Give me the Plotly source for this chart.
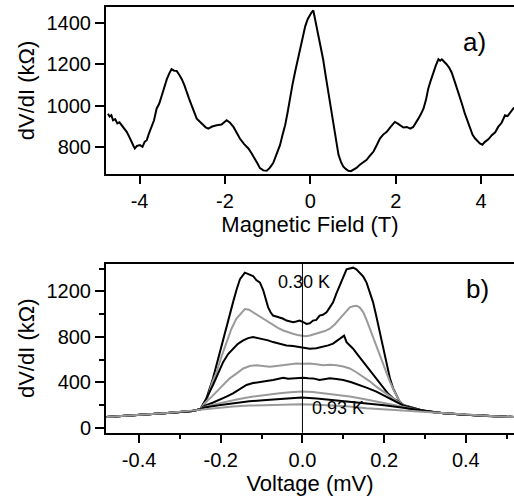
import plotly.graph_objects as go

# ---- panel a: differential resistance vs magnetic field ----
field_T = [-4.74, -4.70, -4.66, -4.62, -4.57, -4.52, -4.47, -4.42, -4.36, -4.30, -4.24, -4.18, -4.14, -4.11, -4.06,
           -3.99, -3.93, -3.88, -3.83, -3.78, -3.72, -3.66, -3.60, -3.54, -3.48, -3.42, -3.36, -3.30, -3.25, -3.19,
           -3.13, -3.07, -3.01, -2.95, -2.90, -2.84, -2.78, -2.72, -2.66, -2.58, -2.51, -2.45, -2.39, -2.30, -2.19,
           -2.08, -1.96, -1.88, -1.80, -1.72, -1.65, -1.55, -1.45, -1.38, -1.30, -1.24, -1.18, -1.10, -1.02, -0.95,
           -0.87, -0.79, -0.71, -0.65, -0.59, -0.53, -0.48, -0.42, -0.36, -0.30, -0.24, -0.18, -0.12, -0.06, -0.01,
           0.03, 0.07, 0.13, 0.19, 0.25, 0.30, 0.36, 0.42, 0.48, 0.54, 0.60, 0.66, 0.72, 0.77, 0.83, 0.89, 0.95,
           1.01, 1.08, 1.16, 1.24, 1.32, 1.40, 1.48, 1.56, 1.63, 1.71, 1.79, 1.88, 1.98, 2.04, 2.10, 2.18, 2.26,
           2.34, 2.41, 2.47, 2.53, 2.59, 2.65, 2.71, 2.76, 2.82, 2.88, 2.94, 3.00, 3.04, 3.08, 3.13, 3.19, 3.25,
           3.31, 3.39, 3.47, 3.55, 3.62, 3.68, 3.74, 3.80, 3.86, 3.92, 3.97, 4.03, 4.09, 4.17, 4.25, 4.33, 4.40,
           4.48, 4.56, 4.62, 4.68, 4.72, 4.77]
dvdi_field = [962, 948, 955, 930, 936, 915, 920, 906, 892, 874, 850, 818, 806, 794, 806,
              810, 802, 826, 834, 866, 898, 930, 986, 1010, 1049, 1090, 1129, 1158, 1177, 1170,
              1169, 1150, 1129, 1100, 1065, 1035, 1002, 968, 938, 922, 906, 896, 890, 900, 906,
              910, 930, 918, 898, 870, 842, 815, 794, 772, 747, 722, 699, 688, 686, 700,
              723, 765, 810, 860, 906, 970, 1033, 1100, 1161, 1220, 1273, 1330, 1384, 1420, 1440,
              1452, 1461, 1400, 1352, 1290, 1225, 1145, 1065, 985, 906, 830, 763, 728, 707, 695, 686, 684,
              691, 700, 715, 728, 739, 760, 779, 812, 842, 862, 874, 898, 922, 915, 906, 895, 898,
              890, 898, 915, 938, 960, 986, 1030, 1081, 1122, 1161, 1195, 1225, 1218, 1225, 1215, 1201, 1185,
              1161, 1112, 1065, 1010, 962, 925, 890, 860, 842, 830, 818, 812, 826, 838, 858, 872, 898,
              918, 954, 950, 970, 978, 992]

# ---- panel b: differential resistance vs bias voltage, 0.30 K (top) to 0.93 K (bottom) ----
tail_left_v = [-0.48, -0.44, -0.40, -0.36, -0.33, -0.30, -0.27, -0.25]
tail_left_r = [96, 104, 112, 122, 131, 141, 150, 165]
tail_right_v = [0.30, 0.34, 0.40, 0.46, 0.518]
tail_right_r = [148, 132, 116, 104, 96]

bias_030K = [-0.235, -0.219, -0.206, -0.194, -0.182, -0.170, -0.161, -0.153, -0.141, -0.129, -0.121, -0.113,
             -0.104, -0.096, -0.090, -0.084, -0.078, -0.072, -0.064, -0.056, -0.047, -0.039, -0.031, -0.023,
             -0.015, -0.007, 0.002, 0.010, 0.018, 0.026, 0.034, 0.042, 0.050, 0.059, 0.067, 0.075, 0.083, 0.091,
             0.100, 0.108, 0.116, 0.124, 0.132, 0.140, 0.149, 0.157, 0.165, 0.173, 0.181, 0.189, 0.198, 0.206,
             0.214, 0.222, 0.230, 0.238, 0.247, 0.255, 0.267, 0.279]
r_030K = [260, 436, 620, 784, 950, 1104, 1220, 1307, 1365, 1350, 1336, 1300,
          1278, 1210, 1133, 1060, 1017, 988, 980, 973, 960, 944, 940, 930,
          936, 944, 930, 915, 920, 944, 950, 988, 995, 1017, 1060, 1104, 1180, 1249,
          1320, 1395, 1402, 1409, 1395, 1365, 1330, 1278, 1200, 1104, 980, 843, 700, 552,
          440, 349, 285, 232, 200, 174, 166, 160]

bias_g1 = [-0.235, -0.222, -0.210, -0.198, -0.186, -0.174, -0.162, -0.150, -0.141, -0.131, -0.121, -0.108,
           -0.096, -0.084, -0.072, -0.060, -0.047, -0.035, -0.023, -0.012, -0.002, 0.008, 0.018, 0.030,
           0.042, 0.055, 0.067, 0.079, 0.091, 0.104, 0.116, 0.124, 0.132, 0.140, 0.149, 0.157, 0.165,
           0.177, 0.189, 0.202, 0.214, 0.224, 0.234, 0.245]
r_g1 = [230, 390, 494, 630, 755, 870, 959, 1010, 1046, 1040, 1017, 990,
        959, 935, 901, 880, 857, 840, 828, 818, 813, 806, 813, 826,
        843, 852, 872, 910, 959, 1010, 1061, 1070, 1075, 1060, 1017, 950, 872,
        760, 639, 520, 407, 330, 261, 200]

bias_b2 = [-0.235, -0.219, -0.206, -0.194, -0.182, -0.170, -0.158, -0.145, -0.133, -0.121, -0.108, -0.096,
           -0.084, -0.072, -0.056, -0.039, -0.023, -0.007, 0.008, 0.018, 0.034, 0.051, 0.063, 0.075, 0.086,
           0.096, 0.102, 0.108, 0.116, 0.124, 0.136, 0.149, 0.161, 0.173, 0.186, 0.198, 0.210, 0.222,
           0.235, 0.247]
r_b2 = [260, 378, 480, 581, 650, 697, 740, 770, 790, 799, 790, 784,
        770, 755, 740, 726, 720, 712, 705, 697, 700, 712, 726, 741, 770,
        799, 812, 755, 730, 697, 640, 581, 520, 465, 405, 349, 300, 261,
        228, 203]

bias_g2 = [-0.240, -0.225, -0.210, -0.194, -0.178, -0.161, -0.145, -0.129, -0.113, -0.096, -0.080, -0.064,
           -0.047, -0.031, -0.015, 0.002, 0.018, 0.034, 0.051, 0.067, 0.083, 0.100, 0.116, 0.132, 0.149,
           0.165, 0.181, 0.198, 0.214, 0.230, 0.247]
r_g2 = [215, 265, 320, 380, 436, 480, 523, 545, 552, 545, 538, 545,
        552, 560, 567, 565, 567, 560, 552, 555, 552, 540, 523, 490, 450,
        410, 363, 320, 276, 238, 203]

bias_b3 = [-0.240, -0.220, -0.202, -0.186, -0.170, -0.153, -0.137, -0.121, -0.104, -0.088, -0.072, -0.060,
           -0.047, -0.035, -0.023, -0.010, 0.002, 0.014, 0.026, 0.042, 0.055, 0.067, 0.083, 0.100, 0.120,
           0.140, 0.160, 0.181, 0.200, 0.218, 0.232, 0.247]
r_b3 = [195, 222, 247, 275, 305, 340, 378, 395, 407, 412, 421, 430,
        441, 432, 436, 440, 441, 438, 436, 421, 430, 436, 430, 421, 402,
        378, 350, 320, 285, 247, 222, 198]

bias_g3 = [-0.240, -0.210, -0.186, -0.155, -0.121, -0.090, -0.056, -0.030, -0.002, 0.025, 0.051, 0.085,
           0.116, 0.150, 0.181, 0.210, 0.238]
r_g3 = [185, 212, 232, 254, 276, 292, 305, 314, 320, 316, 305, 292,
        276, 255, 232, 212, 192]

bias_b4 = [-0.240, -0.205, -0.170, -0.130, -0.088, -0.045, -0.002, 0.035, 0.075, 0.115, 0.157, 0.200,
           0.238]
r_b4 = [180, 200, 218, 234, 247, 259, 267, 260, 247, 234, 218, 200, 183]

bias_093K = [-0.48, -0.40, -0.333, -0.29, -0.251, -0.21, -0.170, -0.13, -0.088, -0.045, -0.002, 0.035,
             0.075, 0.115, 0.157, 0.20, 0.238, 0.28, 0.320, 0.36, 0.402, 0.46, 0.518]
r_093K = [96, 112, 131, 146, 160, 175, 189, 197, 203, 207, 209, 205,
          198, 188, 174, 164, 154, 142, 131, 124, 116, 105, 96]

curves_b = [
    (bias_030K, r_030K, "black", True),
    (bias_g1, r_g1, "#9a9a9a", True),
    (bias_b2, r_b2, "black", True),
    (bias_g2, r_g2, "#9a9a9a", True),
    (bias_b3, r_b3, "black", True),
    (bias_g3, r_g3, "#9a9a9a", True),
    (bias_b4, r_b4, "black", True),
    (bias_093K, r_093K, "#9a9a9a", False),
]

W, H = 514, 502
FONT = "Liberation Sans, Arial, sans-serif"
TICK_FONT = dict(family=FONT, size=20, color="black")
TITLE_FONT = dict(family=FONT, size=22, color="black")

fig = go.Figure()

fig.add_trace(go.Scatter(x=field_T, y=dvdi_field, mode="lines",
                         line=dict(color="black", width=2), xaxis="x", yaxis="y",
                         showlegend=False))

for v, r, col, with_tails in curves_b:
    if with_tails:
        xs = tail_left_v + v + tail_right_v
        ys = tail_left_r + r + tail_right_r
    else:
        xs, ys = v, r
    fig.add_trace(go.Scatter(x=xs, y=ys, mode="lines",
                             line=dict(color=col, width=2), xaxis="x2", yaxis="y2",
                             showlegend=False))


def py(px):
    return 1 - px / H


axis_common = dict(showgrid=False, zeroline=False, showline=True, linecolor="black",
                   linewidth=2, ticks="outside", tickcolor="black", tickwidth=2,
                   tickfont=TICK_FONT)

fig.update_layout(
    width=W, height=H,
    margin=dict(l=0, r=0, t=0, b=0),
    paper_bgcolor="white", plot_bgcolor="white",
    xaxis=dict(axis_common, domain=[106 / W, 1.0], anchor="y", range=[-4.785, 4.77], ticklen=8,
               tickvals=[-4, -2, 0, 2, 4], ticktext=["-4", "-2", "0", "2", "4"], mirror=True,
               title=dict(text="Magnetic Field (T)", font=TITLE_FONT, standoff=3)),
    yaxis=dict(axis_common, domain=[py(176), py(7)], anchor="x", range=[671, 1478], ticklen=9,
               tickvals=[800, 1000, 1200, 1400],
               title=dict(text="dV/dI (kΩ)", font=TITLE_FONT, standoff=6)),
    xaxis2=dict(axis_common, domain=[106 / W, 1.0], anchor="y2", range=[-0.481, 0.518], ticklen=8,
                tickvals=[-0.4, -0.2, 0.0, 0.2, 0.4], ticktext=["-0.4", "-0.2", "0.0", "0.2", "0.4"],
                mirror=True,
                minor=dict(ticks="outside", ticklen=4, tickwidth=2, tickcolor="black",
                           tickvals=[-0.3, -0.1, 0.1, 0.3, 0.5]),
                title=dict(text="Voltage (mV)", font=TITLE_FONT, standoff=3)),
    yaxis2=dict(axis_common, domain=[py(438), py(267)], anchor="x2", range=[-42, 1443], ticklen=9,
                tickvals=[0, 400, 800, 1200],
                minor=dict(ticks="outside", ticklen=5, tickwidth=2, tickcolor="black",
                           tickvals=[200, 600, 1000, 1400]),
                title=dict(text="dV/dI (kΩ)", font=TITLE_FONT, standoff=6)),
)

# zero-bias marker line in panel b
fig.add_shape(type="line", xref="x2", yref="y2 domain", x0=0, x1=0, y0=0, y1=1,
              line=dict(color="black", width=1))

fig.add_annotation(text="a)", xref="paper", yref="paper", x=488 / W, y=py(25),
                   showarrow=False, font=dict(family=FONT, size=26, color="black"))
fig.add_annotation(text="b)", xref="paper", yref="paper", x=491 / W, y=py(292),
                   showarrow=False, font=dict(family=FONT, size=26, color="black"))
fig.add_annotation(text="0.30 K", xref="x2", yref="paper", x=0.005, y=py(285),
                   showarrow=False, font=dict(family=FONT, size=18, color="black"))
fig.add_annotation(text="0.93 K", xref="x2", yref="paper", x=0.088, y=py(425),
                   showarrow=False, font=dict(family=FONT, size=18, color="black"))

fig.write_html("out.html")
